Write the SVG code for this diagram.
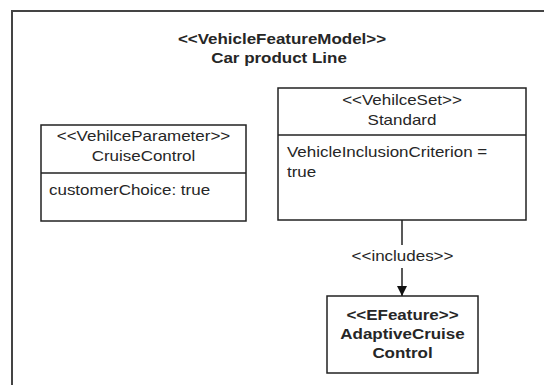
<svg xmlns="http://www.w3.org/2000/svg" width="544" height="385" viewBox="0 0 544 385">
<defs>
<style>
text{font-family:"Liberation Sans",Arial,sans-serif;font-size:14.5px;fill:#262626}
.b{font-weight:bold}
.m{text-anchor:middle}
.box{fill:#fff;stroke:#222;stroke-width:1.5}
.ln{stroke:#222;stroke-width:1.5;fill:none}
</style>
<marker id="arr" viewBox="0 0 10 10" refX="10" refY="5" markerWidth="10" markerHeight="10" markerUnits="userSpaceOnUse" orient="auto">
<path d="M0,0 L10,5 L0,10 Z" fill="#111"/>
</marker>
</defs>
<rect width="544" height="385" fill="#fff"/>
<g id="frame">
<rect x="12" y="11" width="580" height="420" fill="none" stroke="#444" stroke-width="2"/>
<text class="b m" transform="matrix(1.17 0 0 1 282 0)" x="0" y="44">&lt;&lt;VehicleFeatureModel&gt;&gt;</text>
<text class="b m" transform="matrix(1.17 0 0 1 279 0)" x="0" y="63">Car product Line</text>
</g>
<g id="cruiseControl">
<rect class="box" x="41" y="125" width="205" height="96"/>
<line class="ln" x1="41" y1="173" x2="246" y2="173"/>
<text class="m" transform="matrix(1.17 0 0 1 143.5 0)" x="0" y="141">&lt;&lt;VehilceParameter&gt;&gt;</text>
<text class="m" transform="matrix(1.17 0 0 1 143.5 0)" x="0" y="161">CruiseControl</text>
<text transform="matrix(1.17 0 0 1 49 0)" x="0" y="195">customerChoice: true</text>
</g>
<g id="standard">
<rect class="box" x="278" y="88" width="248" height="132"/>
<line class="ln" x1="278" y1="135" x2="526" y2="135"/>
<text class="m" transform="matrix(1.17 0 0 1 402 0)" x="0" y="105">&lt;&lt;VehilceSet&gt;&gt;</text>
<text class="m" transform="matrix(1.17 0 0 1 402 0)" x="0" y="125">Standard</text>
<text transform="matrix(1.17 0 0 1 287 0)" x="0" y="157">VehicleInclusionCriterion =</text>
<text transform="matrix(1.17 0 0 1 287 0)" x="0" y="177">true</text>
</g>
<g id="adaptiveCruiseControl">
<rect class="box" x="327" y="296" width="151" height="77"/>
<text class="b m" transform="matrix(1.17 0 0 1 402.5 0)" x="0" y="320">&lt;&lt;EFeature&gt;&gt;</text>
<text class="b m" transform="matrix(1.17 0 0 1 402.5 0)" x="0" y="339">AdaptiveCruise</text>
<text class="b m" transform="matrix(1.17 0 0 1 402.5 0)" x="0" y="358.5">Control</text>
</g>
<g id="connectors">
<line class="ln" x1="402" y1="220" x2="402" y2="245"/>
<line class="ln" x1="402" y1="268" x2="402" y2="296" marker-end="url(#arr)"/>
<text class="m" transform="matrix(1.17 0 0 1 402.5 0)" x="0" y="261">&lt;&lt;includes&gt;&gt;</text>
</g>
</svg>
